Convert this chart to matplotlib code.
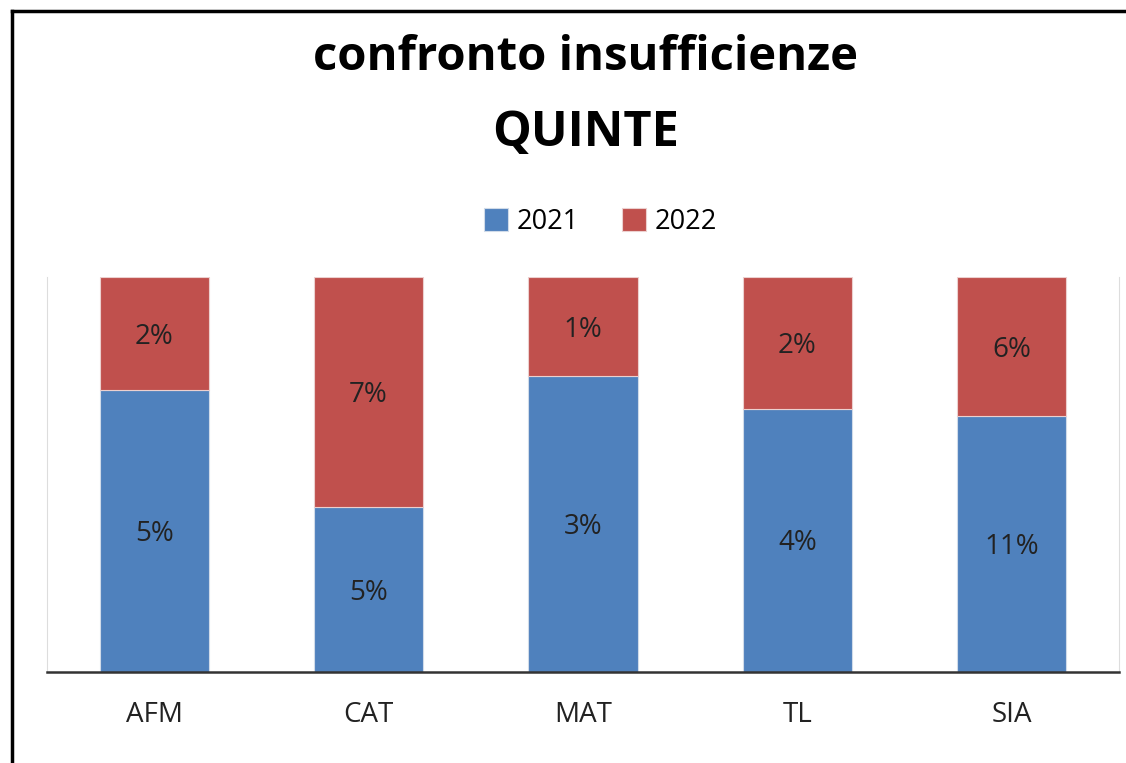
import matplotlib
matplotlib.use("Agg")
import matplotlib.pyplot as plt
import numpy as np

# Data
categories = ["AFM", "CAT", "MAT", "TL", "SIA"]
val_2021 = [5, 5, 3, 4, 11]
val_2022 = [2, 7, 1, 2, 6]
series_names = ["2021", "2022"]

plt.rcParams['font.family'] = ['Open Sans', 'DejaVu Sans']

fig = plt.figure(figsize=(11.26, 7.63), dpi=100)
ax = fig.add_axes([47 / 1126, 1 - 672 / 763, (1119 - 47) / 1126, (672 - 277) / 763])

a = np.array(val_2021, dtype=float)
b = np.array(val_2022, dtype=float)
tot = a + b
pa = a / tot
pb = b / tot
x = np.arange(len(categories))

blue = '#4F81BD'
red = '#C0504D'
bars1 = ax.bar(x, pa, width=0.51, color=blue, edgecolor='#d0dbe9', linewidth=0.8, label=series_names[0])
bars2 = ax.bar(x, pb, width=0.51, bottom=pa, color=red, edgecolor='#ecd0cf', linewidth=0.8, label=series_names[1])

for i in range(len(categories)):
    ax.text(x[i], pa[i] / 2 - 0.008, f"{val_2021[i]}%", ha='center', va='center', fontsize=20, color='#222222')
    ax.text(x[i], pa[i] + pb[i] / 2 - 0.008, f"{val_2022[i]}%", ha='center', va='center', fontsize=20, color='#222222')

ax.set_xlim(-0.5, len(categories) - 0.5)
ax.set_ylim(0, 1)
ax.set_yticks([])
ax.set_xticks(x)
ax.set_xticklabels(categories, fontsize=20, color='#222222')
ax.tick_params(axis='x', length=0, pad=21)
ax.spines['top'].set_visible(False)
ax.spines['left'].set_color('#dddddd')
ax.spines['right'].set_color('#dddddd')
ax.spines['bottom'].set_color('#333333')
ax.spines['bottom'].set_linewidth(1.8)

# title
fig.text(0.52, 1 - 58 / 763, "confronto insufficienze", ha='center', va='center',
         fontsize=34, fontweight='bold')
fig.text(0.52, 1 - 134 / 763, "QUINTE", ha='center', va='center',
         fontsize=35, fontweight='bold')

fig.legend(handles=[bars1, bars2], loc='center', bbox_to_anchor=(0.533, 1 - 222 / 763),
           ncol=2, frameon=False, fontsize=19.5, handlelength=0.9, handleheight=0.9,
           handletextpad=0.3, columnspacing=1.6)

# frame lines (left and top)
fig.add_artist(plt.Line2D([12 / 1126, 12 / 1126], [0, 1 - 11 / 763], color='black', lw=2.5, transform=fig.transFigure))
fig.add_artist(plt.Line2D([12 / 1126, 1], [1 - 11 / 763, 1 - 11 / 763], color='black', lw=2.5, transform=fig.transFigure))

fig.savefig("out.png", dpi=100)
